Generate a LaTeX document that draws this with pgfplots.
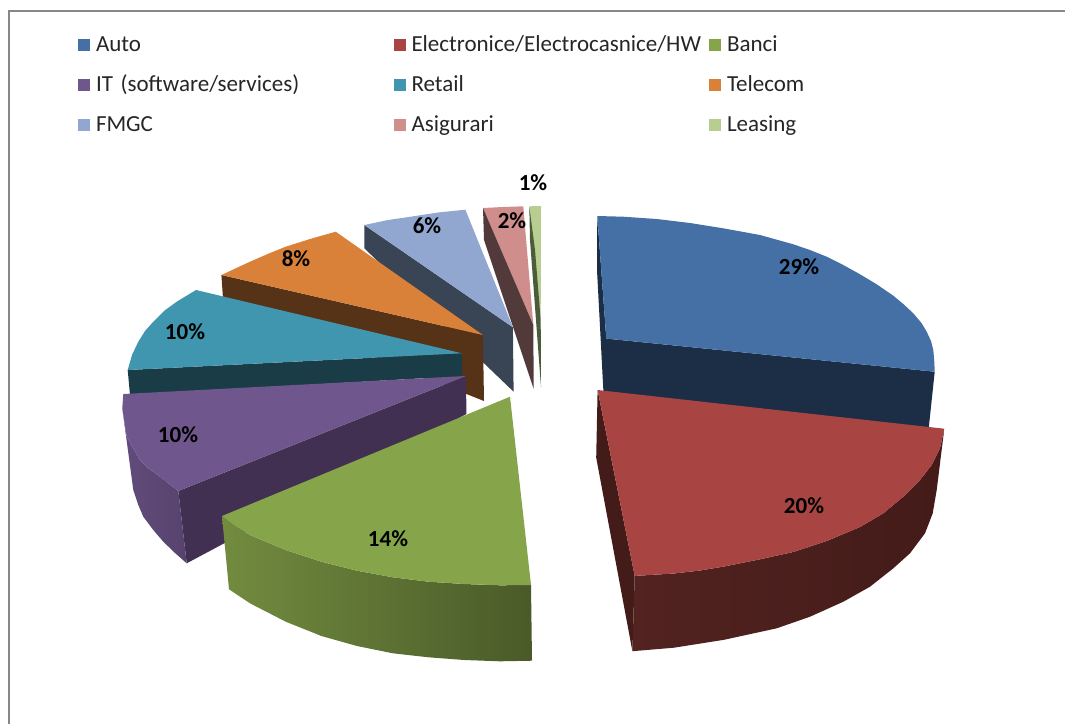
\documentclass[border=0pt]{standalone}
\usepackage{fontspec}
\setmainfont[WordSpace=0.7]{Carlito}
\usepackage{pgfplots}
\pgfplotsset{compat=1.18}
\definecolor{autoc}{HTML}{4470A5}
\definecolor{autos}{HTML}{1B2E45}
\definecolor{elec}{HTML}{A84542}
\definecolor{elecs}{HTML}{431B19}
\definecolor{elecl}{HTML}{522320}
\definecolor{banci}{HTML}{86A44A}
\definecolor{itc}{HTML}{6F568C}
\definecolor{its}{HTML}{413052}
\definecolor{retail}{HTML}{4096AE}
\definecolor{retails}{HTML}{1A3C47}
\definecolor{tel}{HTML}{D98039}
\definecolor{tels}{HTML}{563216}
\definecolor{fmgc}{HTML}{92A7CF}
\definecolor{fmgcs}{HTML}{394454}
\definecolor{asig}{HTML}{CF8D8B}
\definecolor{asigs}{HTML}{52393A}
\definecolor{leas}{HTML}{B8CE91}
\definecolor{leass}{HTML}{4C5B39}
\begin{document}
\begin{tikzpicture}
\begin{axis}[
    scale only axis, width=1065pt, height=724pt,
    xmin=0, xmax=1065, ymin=0, ymax=724, y dir=reverse,
    hide axis, clip=true,
    legend columns=3,
    legend style={at={(axis cs:78,35.2)}, anchor=north west, draw=none, fill=none,
        inner sep=0pt, outer sep=0pt, row sep=18pt,
        font=\fontsize{23}{26}\selectfont,
        nodes={text width=297.5pt, text height=16pt, text depth=6pt, anchor=base west, inner sep=0pt, text=black!85},
        /tikz/every odd column/.style={column sep=6pt},
        /tikz/every even column/.style={column sep=0pt}},
    legend cell align=left,
    legend image code/.code={\path[#1,draw=none] (0pt,0pt) rectangle (12pt,12pt);},
    /pgf/number format/assume math mode=true,
]
% legend comes first, the slices are drawn back to front
\addlegendimage{fill=autoc}\addlegendentry{Auto}
\addlegendimage{fill=elec}\addlegendentry{Electronice/Electrocasnice/HW}
\addlegendimage{fill=banci}\addlegendentry{Banci}
\addlegendimage{fill=itc}\addlegendentry{IT (software/services)}
\addlegendimage{fill=retail}\addlegendentry{Retail}
\addlegendimage{fill=tel}\addlegendentry{Telecom}
\addlegendimage{fill=fmgc}\addlegendentry{FMGC}
\addlegendimage{fill=asig}\addlegendentry{Asigurari}
\addlegendimage{fill=leas}\addlegendentry{Leasing}

% keeps the page the size of the whole axis
\addplot[draw=none] coordinates {(0,0) (1065,724)};
% frame
\addplot[draw=black!47, line width=2pt] coordinates {(8.5,724) (8.5,11) (1065,11)};

% Leasing
\addplot[fill=leas, draw=none] coordinates {(529.3,206.3) (541,206) (540.7,320)};
\addplot[fill=leass, draw=none] coordinates {(529.3,206.3) (530,240) (541,387) (540.7,320) (535,250)};
% Asigurari
\addplot[fill=asig, draw=none] coordinates {(483,208) (503,207) (523.3,206.3) (533.3,325)};
\addplot[fill=asigs, draw=none] coordinates {(483,208) (484,240) (533.7,389) (533.3,325)};
% FMGC
\addplot[fill=fmgcs, draw=none] coordinates {(364.3,225) (364.3,248.3) (513.6,391.7) (512.9,327.3)};
\addplot[fill=fmgc, draw=none] coordinates {(364.3,225) (388,220) (410.7,216.7) (438,212.5) (465.4,209.7) (512.9,327.3)};
% Telecom
\addplot[fill=tels, draw=none] coordinates {(221.4,275) (222.9,297) (484,401) (482.9,335)};
\addplot[fill=tel, draw=none] coordinates {(221.4,275) (250,261.7) (270,253) (285.7,246.7) (310,239) (335.7,231.7) (482.9,335)};
% Retail
\addplot[fill=retails, draw=none] coordinates {(127.7,370) (130,395) (462.5,376) (461.8,353.3)};
\addplot[fill=retail, draw=none] coordinates {(196,290) (176.7,301.7) (164,311) (153.3,321.7) (145,331) (138.3,341.7) (132,355) (127.7,370) (461.8,353.3)};
% IT
\addplot[fill=its, draw=none] coordinates {(178.3,491) (186.7,563.3) (466.4,414) (466,376)};
\addplot[left color=itc!88!black, right color=itc!78!black, draw=none] coordinates {(122.3,408.3) (128.3,453) (133.3,490) (138.3,505) (143.3,516.7) (153.3,530) (163.3,541.7) (175,553) (186.7,563.3) (178.3,491) (160,476.7) (148.3,468.3) (140,460) (133.3,448.3) (126.7,436.7)};
\addplot[fill=itc, draw=none] coordinates {(466,376) (123.3,394) (122.3,408.3) (126.7,436.7) (133.3,448.3) (140,460) (148.3,468.3) (160,476.7) (178.3,491)};
% Auto
\addplot[fill=autos, draw=none] coordinates {(597.3,216) (597,270) (603.6,395) (928.3,432) (933.3,385) (934.7,371.7) (606.3,338.6)};
\addplot[fill=autoc, draw=none] coordinates {(597.3,216) (623.3,216.7) (656.7,219) (690,223) (723.3,228.3) (760,235) (793.3,244.3) (810,250) (826.7,256.7) (843.3,265) (860,274.3) (876.7,284.3) (893.3,295.7) (903.3,304) (913.3,313.3) (921.7,323.3) (926.7,331.7) (931,341) (933.3,350) (934.3,361.7) (934.7,371.7) (606.3,338.6)};
% Banci
\addplot[left color=banci!85!black, right color=banci!55!black, draw=none] coordinates {(222,516) (229,589.3) (250,603.3) (285.7,621.7) (321.4,636) (357,646) (392.9,653.3) (428.6,657.3) (464.3,660) (500,661.3) (532,660.7) (531,585) (500,585.3) (464.3,584) (428.6,581.7) (392.9,577.3) (357,570.7) (321.4,561.7) (285.7,550) (250,535) (235,526)};
\addplot[fill=banci, draw=none] coordinates {(510,396.7) (222,516) (235,526) (250,535) (285.7,550) (321.4,561.7) (357,570.7) (392.9,577.3) (428.6,581.7) (464.3,584) (500,585.3) (531,585)};
% Electronice
\addplot[fill=elecs, draw=none] coordinates {(597.6,390) (596.2,457.6) (632.4,651.2) (634.7,575.9)};
\addplot[left color=elecl, right color=elecs, draw=none] coordinates {(944.3,428.7) (936.7,490) (932.7,513.3) (925,533.3) (910,553.3) (893.3,568.3) (870,586.7) (843.3,601.7) (810,616.7) (776.7,628.3) (724,639.8) (673.9,647.7) (632.4,651.2) (634.7,575.9) (673.9,573.5) (700,570.5) (724,566.5) (760,559.3) (793.3,552) (826.7,541) (860,527) (883.3,513.3) (903.3,496.7) (920,480) (931.7,465) (940,448.3)};
\addplot[fill=elec, draw=none] coordinates {(597.6,390) (944.3,428.7) (940,448.3) (931.7,465) (920,480) (903.3,496.7) (883.3,513.3) (860,527) (826.7,541) (793.3,552) (760,559.3) (724,566.5) (700,570.5) (673.9,573.5) (634.7,575.9)};

% percent labels
\addplot[draw=none, mark=none, nodes near coords={\bfseries\fontsize{23}{26}\selectfont\pgfmathprintnumber{\pgfplotspointmeta}\%},
    nodes near coords style={anchor=center, inner sep=0pt}, point meta=explicit]
    table[x=x, y=y, meta=p] {
x y p
799 267 29
804 506 20
388 539 14
178 435 10
185 332 10
296 259 8
427 226 6
512 221 2
533 183 1
};
\end{axis}
\end{tikzpicture}
\end{document}
